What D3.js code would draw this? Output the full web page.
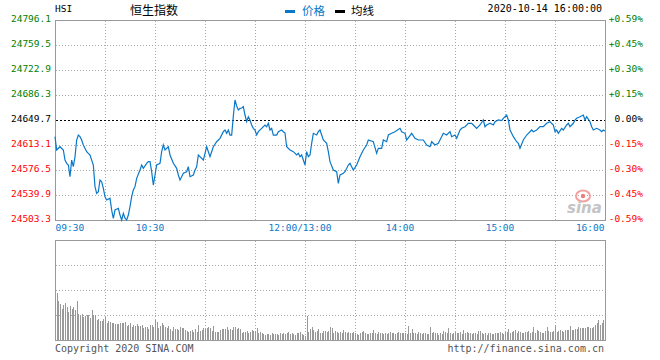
<!DOCTYPE html>
<html><head><meta charset="utf-8">
<script src="https://cdn.jsdelivr.net/npm/d3@7"></script>
<style>body{margin:0;background:#fff}svg{display:block}</style>
</head><body><svg id="c" width="660" height="360"></svg>
<script>
// ---- data ----
const prevClose = 24649.7;
const priceTicks = [24796.1, 24759.5, 24722.9, 24686.3, 24649.7, 24613.1, 24576.5, 24539.9, 24503.3];
const pctTicks = ["+0.59%", "+0.45%", "+0.30%", "+0.15%", "0.00%", "-0.15%", "-0.30%", "-0.45%", "-0.59%"];
const timeLabels = ["09:30", "10:30", "12:00/13:00", "14:00", "15:00", "16:00"];
const timeLabelMinutes = [0, 60, 150, 210, 270, 330]; // trading minutes since 09:30
const gridMinutes = [30, 60, 90, 120, 150, 180, 210, 240, 270, 300];
const volGrid = [25, 50, 75];
// trading minute since 09:30 open (12:00 and 13:00 share minute 150)
const priceMinutes = [
  0,1,3,5,6,7,8,9,10,11,
  12,13,14,15,16,17,19,20,21,23,
  24,25,26,27,28,29,30,31,33,34,
  35,36,38,39,40,41,42,43,44,45,
  46,47,48,49,51,52,53,55,56,57,
  58,59,60,61,63,64,65,66,68,69,
  71,73,74,75,76,77,79,80,81,83,
  84,85,86,88,89,90,91,93,94,95,
  97,99,101,102,103,104,105,106,107,108,
  109,110,111,112,113,114,115,116,117,118,
  119,120,121,122,124,126,127,128,129,130,
  131,133,134,136,137,138,139,141,143,145,
  146,147,148,149,150,151,152,153,154,155,
  157,158,159,161,163,164,165,167,169,170,
  171,173,174,176,177,178,179,181,183,185,
  187,188,191,193,194,196,197,199,200,202,
  204,207,208,210,211,214,216,218,221,223,
  225,226,228,230,231,233,235,237,238,240,
  241,243,244,246,248,250,251,253,255,257,
  258,259,261,263,264,266,268,269,271,272,
  273,274,275,277,278,279,281,283,284,286,
  287,289,291,293,295,297,299,300,301,302,
  304,305,307,308,309,311,312,313,315,317,
  318,319,321,322,323,325,327,328,329,330
];
const priceValues = [
  24625.3,24605.8,24610.6,24605.8,24591.1,24586.3,24583.8,24566.7,24591.1,24581.3,
  24596.0,24620.4,24627.7,24625.3,24620.4,24613.1,24603.3,24600.9,24598.5,24583.8,
  24552.1,24542.4,24544.7,24561.9,24559.4,24549.7,24537.4,24532.6,24535.1,24517.9,
  24505.8,24517.9,24520.4,24510.6,24503.3,24513.1,24505.8,24503.3,24510.6,24522.8,
  24537.4,24547.2,24552.1,24564.3,24576.5,24583.8,24579.0,24586.3,24588.7,24588.7,
  24574.0,24554.5,24569.2,24583.8,24586.3,24603.3,24613.1,24605.8,24610.6,24598.5,
  24586.3,24579.0,24569.2,24561.9,24566.7,24571.7,24574.0,24581.3,24566.7,24569.2,
  24576.5,24581.3,24598.5,24593.6,24591.1,24600.9,24610.6,24596.0,24603.3,24610.6,
  24617.9,24622.9,24632.6,24635.1,24630.2,24635.1,24627.7,24627.7,24655.6,24679.0,
  24670.2,24664.3,24666.8,24667.3,24669.2,24657.0,24647.2,24654.5,24649.7,24642.4,
  24637.5,24635.1,24627.7,24632.6,24637.5,24642.4,24639.9,24644.9,24635.1,24637.5,
  24627.7,24627.7,24632.6,24635.1,24632.6,24630.7,24610.6,24605.8,24603.3,24598.5,
  24600.9,24596.0,24598.5,24591.1,24583.8,24603.3,24596.0,24598.5,24615.6,24630.2,
  24627.7,24632.6,24635.1,24620.4,24615.6,24603.3,24588.7,24576.5,24574.0,24557.0,
  24569.2,24571.7,24574.0,24583.8,24586.3,24581.3,24576.5,24583.8,24596.0,24605.8,
  24613.1,24620.4,24617.9,24600.9,24608.3,24608.3,24620.4,24617.9,24627.7,24630.2,
  24632.6,24637.5,24632.6,24630.2,24620.4,24630.2,24622.9,24620.4,24620.4,24613.1,
  24610.6,24617.9,24613.1,24615.6,24620.4,24630.2,24627.7,24632.6,24625.3,24627.7,
  24622.9,24635.1,24637.5,24639.9,24644.9,24644.9,24642.4,24637.5,24642.4,24649.7,
  24639.9,24642.4,24644.9,24642.4,24647.2,24649.7,24648.7,24652.2,24657.0,24649.7,
  24635.1,24630.2,24625.3,24617.9,24615.6,24608.3,24620.4,24627.7,24630.2,24635.1,
  24632.6,24635.1,24639.9,24639.9,24644.9,24647.2,24642.4,24632.6,24635.1,24630.2,
  24637.5,24635.1,24642.4,24644.9,24639.9,24644.9,24649.7,24652.2,24654.5,24657.0,
  24649.7,24654.5,24647.2,24639.9,24635.1,24637.5,24635.1,24632.6,24635.1,24633.6
];
// volume per trading minute (relative units, panel top = 100)
const volumes = [
  30,47,39,36,31,35,37,33,28,34, 31,33,30,39,26,25,26,23,24,25,
  25,22,30,25,25,20,21,19,19,21, 23,17,19,18,17,17,16,16,16,17,
  17,17,18,14,15,17,13,15,14,16, 14,14,15,12,13,13,11,15,15,13,
  20,18,12,14,17,15,13,12,14,11, 9,13,11,11,10,13,12,12,10,9,
  8,9,10,8,11,8,15,9,10,12, 11,12,13,12,9,14,8,8,8,10,
  11,11,11,13,10,11,10,13,13,11, 12,11,7,8,8,9,7,8,10,9,
  9,12,7,8,7,6,5,6,6,5, 7,6,6,6,5,7,6,7,6,7,
  8,6,7,6,5,7,7,8,6,5, 4,24,8,11,13,10,8,9,11,7,
  7,9,9,8,9,13,12,7,9,8, 7,8,7,10,8,7,8,7,7,8,
  7,6,5,7,8,9,7,6,6,7, 7,10,7,6,8,7,7,6,7,6,
  7,8,7,7,6,7,8,7,7,7, 7,6,14,7,11,7,7,6,8,7,
  6,7,7,6,6,13,7,8,7,7, 5,7,6,9,8,7,12,7,6,7,
  8,7,7,8,6,10,7,8,7,7, 6,7,7,6,9,9,7,6,7,5,
  7,7,6,6,7,7,7,8,7,6, 8,8,11,7,8,9,10,7,9,8,
  7,7,8,8,9,7,8,13,7,10, 9,8,7,7,9,13,9,8,8,9,
  14,8,9,10,9,8,10,10,10,14, 10,10,11,11,13,12,12,12,12,13,
  13,12,12,13,15,17,20,15,17,20, 19
];

// ---- layout ----
const svg = d3.select("#c");
const X0 = 55, X1 = 605, Y0 = 20, Y1 = 220, V0 = 240, V1 = 340;
const mono = "'DejaVu Sans Mono', 'Liberation Mono', monospace";
const cjk = "'Noto Sans CJK SC', sans-serif";
const blue = "#0a78c8", green = "#008000", red = "#ff0000", gridC = "#a8a8a8", frameC = "#999";

const x = d3.scaleLinear().domain([0, 330]).range([X0, X1]);
const y = d3.scaleLinear().domain([priceTicks[8], priceTicks[0]]).range([Y1, Y0]);
const yv = d3.scaleLinear().domain([0, 100]).range([V1, V0]);

const g = svg.append("g").attr("transform", "translate(0.5,0.5)");

// price grid
g.selectAll(".vg").data(gridMinutes).join("line")
  .attr("x1", d => Math.round(x(d))).attr("x2", d => Math.round(x(d)))
  .attr("y1", Y0).attr("y2", Y1)
  .attr("stroke", gridC).attr("stroke-dasharray", "1,2").attr("shape-rendering", "crispEdges");
g.selectAll(".hg").data(priceTicks.filter((d, i) => i > 0 && i < 8 && d !== prevClose)).join("line")
  .attr("x1", X0).attr("x2", X1)
  .attr("y1", d => Math.round(y(d))).attr("y2", d => Math.round(y(d)))
  .attr("stroke", gridC).attr("stroke-dasharray", "1,2").attr("shape-rendering", "crispEdges");
// volume grid
g.selectAll(".vvg").data(gridMinutes).join("line")
  .attr("x1", d => Math.round(x(d))).attr("x2", d => Math.round(x(d)))
  .attr("y1", V0).attr("y2", V1)
  .attr("stroke", gridC).attr("stroke-dasharray", "1,2").attr("shape-rendering", "crispEdges");
g.selectAll(".vhg").data(volGrid).join("line")
  .attr("x1", X0).attr("x2", X1)
  .attr("y1", d => Math.round(yv(d))).attr("y2", d => Math.round(yv(d)))
  .attr("stroke", gridC).attr("stroke-dasharray", "1,2").attr("shape-rendering", "crispEdges");

// volume bars
svg.append("g").selectAll("rect").data(volumes).join("rect")
  .attr("x", (d, i) => Math.round(x(i)))
  .attr("width", 1)
  .attr("y", d => Math.round(yv(d)))
  .attr("height", d => V1 - Math.round(yv(d)))
  .attr("fill", "#999").attr("shape-rendering", "crispEdges");

// prev close dashed line
g.append("line")
  .attr("x1", X0).attr("x2", X1)
  .attr("y1", Math.round(y(prevClose))).attr("y2", Math.round(y(prevClose)))
  .attr("stroke", "#000").attr("stroke-dasharray", "2,2").attr("shape-rendering", "crispEdges");

// sina watermark
const wm = svg.append("g");
wm.append("ellipse").attr("cx", 583).attr("cy", 196).attr("rx", 7).attr("ry", 5.5)
  .attr("fill", "none").attr("stroke", "#f3a0a0").attr("stroke-width", 2);
wm.append("circle").attr("cx", 583).attr("cy", 196).attr("r", 2.2).attr("fill", "#e88080");
wm.append("text").attr("x", 567).attr("y", 213).text("sina")
  .attr("font-family", "'DejaVu Sans', sans-serif").attr("font-style", "italic").attr("font-weight", "bold")
  .attr("font-size", 15).attr("fill", "#c4c4c4");

// price line
const pts = priceMinutes.map((m, i) => ({ m, p: priceValues[i] }));
svg.append("path").datum(pts)
  .attr("d", d3.line().x(d => x(d.m)).y(d => y(d.p)))
  .attr("fill", "none").attr("stroke", blue).attr("stroke-width", 1.2);

// frames
g.append("rect").attr("x", X0).attr("y", Y0).attr("width", X1 - X0).attr("height", Y1 - Y0)
  .attr("fill", "none").attr("stroke", frameC).attr("shape-rendering", "crispEdges");
g.append("rect").attr("x", X0).attr("y", V0).attr("width", X1 - X0).attr("height", V1 - V0)
  .attr("fill", "none").attr("stroke", frameC).attr("shape-rendering", "crispEdges");

const tickColor = (i) => i < 4 ? green : (i === 4 ? "#000" : red);

// left axis
const la = svg.append("g").attr("transform", `translate(${X0},0)`)
  .call(d3.axisLeft(y).tickValues(priceTicks).tickSize(0).tickPadding(4).tickFormat(d => d.toFixed(1)));
la.select(".domain").remove();
la.selectAll("text").attr("dy", "1").attr("fill", (d, i) => tickColor(i))
  .attr("font-family", mono).attr("font-size", 9.5);

// right axis
const ra = svg.append("g").attr("transform", `translate(${X1},0)`)
  .call(d3.axisRight(y).tickValues(priceTicks).tickSize(0).tickFormat((d, i) => pctTicks[i]));
ra.select(".domain").remove();
ra.selectAll("text").attr("x", 38).attr("text-anchor", "end").attr("dy", "1")
  .attr("fill", (d, i) => tickColor(i)).attr("font-family", mono).attr("font-size", 9.5);

// time axis
const ta = svg.append("g").attr("transform", `translate(0,${Y1})`)
  .call(d3.axisBottom(x).tickValues(timeLabelMinutes).tickSize(0).tickFormat((d, i) => timeLabels[i]));
ta.select(".domain").remove();
ta.selectAll("text").attr("y", 11).attr("dy", 0)
  .attr("fill", blue).attr("font-family", mono).attr("font-size", 9.5)
  .attr("text-anchor", (d, i) => i === 0 ? "start" : (i === timeLabels.length - 1 ? "end" : "middle"))
  .attr("dx", (d, i) => i === 0 ? 0 : (i === timeLabels.length - 1 ? -1 : -5.5));

// header
svg.append("text").attr("x", 55).attr("y", 12).text("HSI")
  .attr("font-family", mono).attr("font-size", 9.5).attr("fill", "#000");
svg.append("text").attr("x", 130).attr("y", 15).text("恒生指数")
  .attr("font-family", cjk).attr("font-size", 12).attr("fill", "#000");
svg.append("rect").attr("x", 285).attr("y", 10).attr("width", 10).attr("height", 3).attr("fill", blue);
svg.append("text").attr("x", 302).attr("y", 15).text("价格")
  .attr("font-family", cjk).attr("font-size", 11.5).attr("fill", blue);
svg.append("rect").attr("x", 335).attr("y", 10).attr("width", 10).attr("height", 3).attr("fill", "#000");
svg.append("text").attr("x", 351).attr("y", 15).text("均线")
  .attr("font-family", cjk).attr("font-size", 11.5).attr("fill", "#000");
svg.append("text").attr("x", 602).attr("y", 12).attr("text-anchor", "end").text("2020-10-14 16:00:00")
  .attr("font-family", mono).attr("font-size", 10).attr("fill", "#000");

// footer
svg.append("text").attr("x", 55).attr("y", 352).text("Copyright 2020 SINA.COM")
  .attr("font-family", mono).attr("font-size", 10).attr("fill", "#555");
svg.append("text").attr("x", 604).attr("y", 352).attr("text-anchor", "end").text("http://finance.sina.com.cn")
  .attr("font-family", mono).attr("font-size", 10).attr("fill", "#555");
</script></body></html>
